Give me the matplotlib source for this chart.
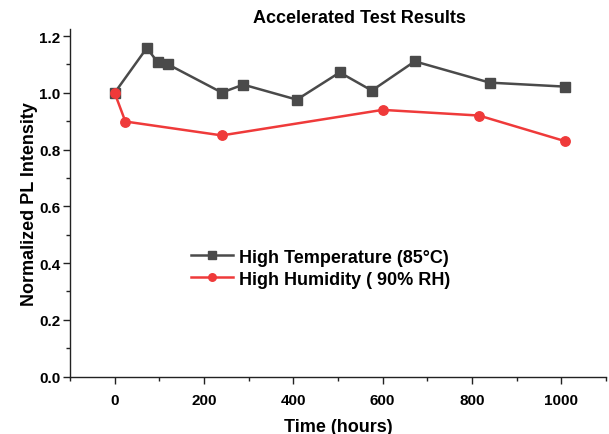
import matplotlib
matplotlib.use("Agg")
import matplotlib.pyplot as plt
from matplotlib.ticker import MultipleLocator, FormatStrFormatter

plt.rcParams['font.family'] = ['Liberation Sans', 'DejaVu Sans']
plt.rcParams['font.weight'] = 'bold'

temp_hours = [0, 72, 96, 120, 240, 288, 408, 504, 576, 672, 840, 1008]
temp_values = [1.0, 1.158, 1.109, 1.100, 1.001, 1.029, 0.976, 1.072, 1.008, 1.111, 1.036, 1.022]
hum_hours = [0, 24, 240, 600, 816, 1008]
hum_values = [1.0, 0.899, 0.850, 0.940, 0.920, 0.830]

title = "Accelerated Test Results"
xlabel = "Time (hours)"
ylabel = "Normalized PL Intensity"
temp_label = "High Temperature (85\u00b0C)"
hum_label = "High Humidity ( 90% RH)"

gray = "#4a4a4a"
red = "#ef3a3a"

fig = plt.figure(figsize=(6.09, 4.35), dpi=100)
ax = fig.add_axes([0.1149, 0.132, 0.880, 0.799])

ax.plot(temp_hours, temp_values, color=gray, lw=1.8, marker='s', ms=6.8,
        label=temp_label, zorder=3)
ax.plot(hum_hours, hum_values, color=red, lw=1.8, marker='o', ms=6.8,
        label=hum_label, zorder=3)

ax.set_xlim(-100, 1100)
ax.set_ylim(0, 1.225)
ax.xaxis.set_major_locator(MultipleLocator(200))
ax.xaxis.set_minor_locator(MultipleLocator(100))
ax.yaxis.set_major_locator(MultipleLocator(0.2))
ax.yaxis.set_minor_locator(MultipleLocator(0.1))
ax.yaxis.set_major_formatter(FormatStrFormatter('%.1f'))

for s in ['top', 'right']:
    ax.spines[s].set_visible(False)
for s in ['left', 'bottom']:
    ax.spines[s].set_linewidth(1.0)
    ax.spines[s].set_color('#222222')

ax.tick_params(which='major', direction='out', length=5, width=1, labelsize=11,
               colors='#222222', labelcolor='black')
ax.tick_params(which='minor', direction='out', length=3, width=1, colors='#222222')
ax.tick_params(axis='x', which='major', pad=7)
ax.tick_params(axis='y', which='major', pad=2)
for lab in ax.get_xticklabels() + ax.get_yticklabels():
    lab.set_fontweight('bold')

ax.set_xlabel(xlabel, fontsize=13, fontweight='bold', labelpad=8)
ax.set_ylabel(ylabel, fontsize=13, fontweight='bold', labelpad=1)
ax.set_title(title, fontsize=13, fontweight='bold', x=0.541, pad=5)

leg = ax.legend(loc='center left', bbox_to_anchor=(0.196, 0.312), frameon=False,
                prop={'size': 13, 'weight': 'bold'}, handlelength=2.3,
                handletextpad=0.35, labelspacing=0.28, markerscale=0.8)

fig.savefig("out.png", dpi=100)
